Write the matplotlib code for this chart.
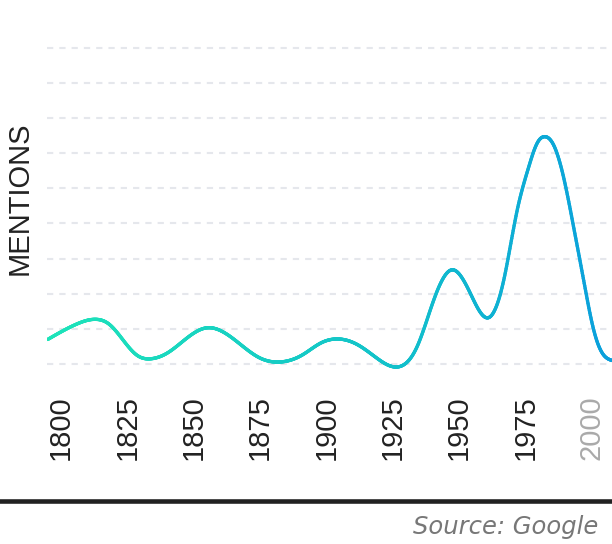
import numpy as np
import matplotlib
matplotlib.use("Agg")
import matplotlib.pyplot as plt
from matplotlib.collections import LineCollection
from matplotlib.colors import LinearSegmentedColormap
from matplotlib.lines import Line2D

plt.rcParams['font.family'] = ['Liberation Sans', 'DejaVu Sans']

# values (units = one gridline step)
years = [1795, 1806, 1813.5, 1818, 1823.4, 1828.8, 1834, 1840, 1848, 1855,
         1864, 1875, 1883, 1891, 1898, 1905, 1912, 1919, 1928.5, 1934.2,
         1940.5, 1947.4, 1954.3, 1961.2, 1966.9, 1972, 1976, 1979.6, 1982.3,
         1985.7, 1989.4, 1993.2, 1997, 2000.8, 2004.5, 2007.7]
mentions = [0.70, 1.14, 1.27, 1.14, 0.68, 0.24, 0.15, 0.31, 0.77, 1.03,
            0.77, 0.17, 0.06, 0.26, 0.60, 0.71, 0.54, 0.17, -0.05, 0.49,
            1.82, 2.68, 2.01, 1.32, 2.39, 4.39, 5.53, 6.30, 6.47,
            6.23, 5.33, 3.91, 2.39, 0.97, 0.26, 0.10]
tick_years = [1800, 1825, 1850, 1875, 1900, 1925, 1950, 1975, 2000]
grid_levels = list(range(10))


def smooth_curve(x, y, n=1200):
    # natural cubic spline through the points, only to draw the line smooth
    x = np.asarray(x, float)
    y = np.asarray(y, float)
    k = len(x)
    h = np.diff(x)
    A = np.zeros((k, k))
    r = np.zeros(k)
    A[0, 0] = A[-1, -1] = 1
    for i in range(1, k - 1):
        A[i, i - 1] = h[i - 1]
        A[i, i] = 2 * (h[i - 1] + h[i])
        A[i, i + 1] = h[i]
        r[i] = 6 * ((y[i + 1] - y[i]) / h[i] - (y[i] - y[i - 1]) / h[i - 1])
    M = np.linalg.solve(A, r)
    xs = np.linspace(x[0], x[-1], n)
    j = np.clip(np.searchsorted(x, xs) - 1, 0, k - 2)
    a = x[j + 1] - xs
    b = xs - x[j]
    hj = h[j]
    ys = (M[j] * a**3 / (6 * hj) + M[j + 1] * b**3 / (6 * hj)
          + (y[j] / hj - M[j] * hj / 6) * a + (y[j + 1] / hj - M[j + 1] * hj / 6) * b)
    return xs, ys


fig = plt.figure(figsize=(6.12, 5.44), dpi=100)
ax = fig.add_axes([47 / 612, 1 - 380 / 544, 565 / 612, 340 / 544])
ax.set_xlim(1794.7, 2007.7)
ax.set_ylim((364 - 380) / 35.14, (364 - 40) / 35.14)

for g in grid_levels:
    ax.axhline(g, color='#e5e7ec', lw=1.5, ls=(0, (3, 2.9)), zorder=1)

xs, ys = smooth_curve(years, mentions)
pts = np.column_stack([xs, ys]).reshape(-1, 1, 2)
segs = np.concatenate([pts[:-1], pts[1:]], axis=1)
cmap = LinearSegmentedColormap.from_list(
    'teal', [(0, '#1de4b9'), (0.6, '#12c2ca'), (1, '#0a9fdc')])
lc = LineCollection(segs, cmap=cmap, linewidths=2.4, capstyle='round',
                    joinstyle='round', zorder=3)
lc.set_array((xs[:-1] - 1795) / (2008 - 1795))
lc.set_clim(0, 1)
ax.add_collection(lc)

ax.set_xticks(tick_years)
ax.set_xticklabels([str(y) for y in tick_years], rotation=90, fontsize=21,
                   color='#222222')
ax.get_xticklabels()[-1].set_color('#aaaaaa')
ax.tick_params(axis='x', length=0, pad=11)
ax.set_yticks([])
for s in ax.spines.values():
    s.set_visible(False)

fig.text(20 / 612, 1 - 198 / 544, 'MENTIONS', rotation=90, ha='center',
         va='center', fontsize=21, color='#222222')

fig.add_artist(Line2D([0, 1], [1 - 500.5 / 544] * 2, color='#222222', lw=3.3,
                      transform=fig.transFigure))
fig.text(598 / 612, 1 - 527 / 544, 'Source: Google', ha='right', va='center',
         fontsize=17.5, style='italic', color='#777777',
         family=['DejaVu Sans'])

fig.savefig('out.png', dpi=100)
